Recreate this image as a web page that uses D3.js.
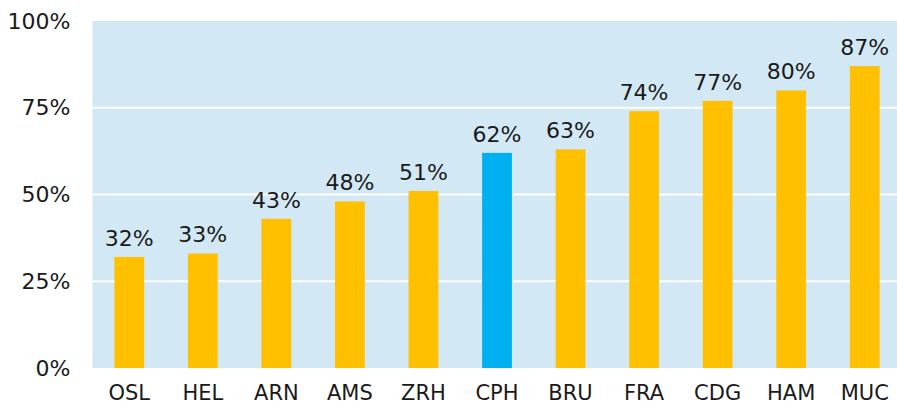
<!DOCTYPE html>
<html><head><meta charset="utf-8">
<script src="https://cdn.jsdelivr.net/npm/d3@7"></script>
<style>body{margin:0;background:#fff;overflow:hidden}text{font-family:"DejaVu Sans",Verdana,sans-serif;fill:#1a1a1a}</style>
</head><body><svg id="c" width="897" height="406"></svg>
<script>
const categories = ["OSL","HEL","ARN","AMS","ZRH","CPH","BRU","FRA","CDG","HAM","MUC"];
const values = [32,33,43,48,51,62,63,74,77,80,87];
const highlight = ["CPH"];
const yTicks = [0,25,50,75,100];

const svg = d3.select("#c");
const L=92.5, R=901.5, T=21, B=368;
const FS=22;
const x = d3.scaleBand().domain(categories).range([L,R]).paddingInner(0.595).paddingOuter(0.2975);
const y = d3.scaleLinear().domain([0,100]).range([B,T]);

svg.append("rect").attr("x",L).attr("y",T).attr("width",R-L).attr("height",B-T).attr("fill","#D3E8F5");
svg.append("g").selectAll("line").data(yTicks.filter(d=>d>0&&d<100)).join("line")
  .attr("x1",L).attr("x2",R).attr("y1",d=>y(d)).attr("y2",d=>y(d))
  .attr("stroke","#fff").attr("stroke-width",1.8);

const yAxis = svg.append("g").attr("transform",`translate(${L},0)`)
  .call(d3.axisLeft(y).tickValues(yTicks).tickFormat(d=>d+"%").tickSize(0).tickPadding(22));
yAxis.select(".domain").remove();
yAxis.selectAll("text").attr("font-size",FS).attr("font-family","DejaVu Sans").attr("fill","#1a1a1a");

const xAxis = svg.append("g").attr("transform",`translate(0,${B})`)
  .call(d3.axisBottom(x).tickSize(0).tickPadding(17));
xAxis.select(".domain").remove();
xAxis.selectAll("text").attr("font-size",21).attr("font-family","DejaVu Sans").attr("fill","#1a1a1a");

svg.append("g").selectAll("rect").data(categories).join("rect")
  .attr("x",d=>x(d)).attr("width",x.bandwidth())
  .attr("y",(d,i)=>y(values[i])).attr("height",(d,i)=>B-y(values[i]))
  .attr("fill",d=>highlight.includes(d)?"#00B0F0":"#FFC000");

svg.append("g").selectAll("text").data(categories).join("text")
  .attr("x",d=>x(d)+x.bandwidth()/2).attr("y",(d,i)=>y(values[i])-11)
  .attr("text-anchor","middle").attr("font-size",FS)
  .text((d,i)=>values[i]+"%");
</script></body></html>
